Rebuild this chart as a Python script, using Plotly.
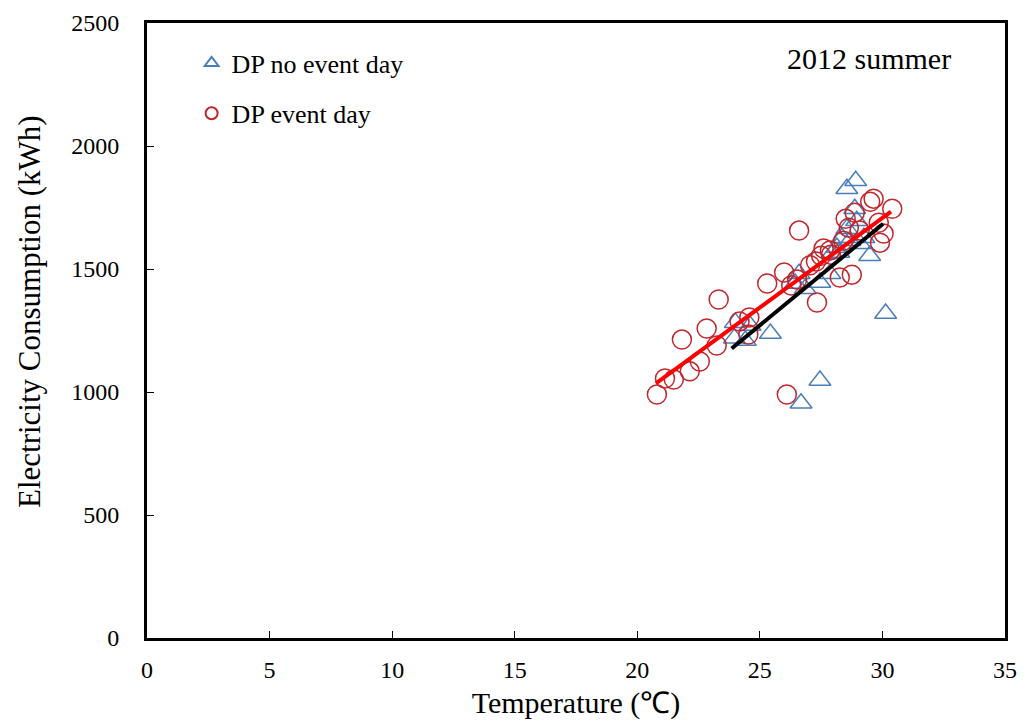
import plotly.graph_objects as go

# DP no event day (blue triangles)
no_event_temp = [28.55, 28.91, 28.87, 28.95, 28.55, 28.35, 28.67, 29.08, 29.48, 28.14,
                 27.94, 29.24, 30.13, 27.45, 26.68, 25.43, 23.96, 24.41, 24.0, 24.6,
                 26.6, 26.44, 26.85, 27.45, 27.86, 28.22]
no_event_kwh = [1826, 1859, 1745, 1696, 1664, 1627, 1615, 1603, 1554, 1587,
                1562, 1627, 1319, 1047, 954, 1238, 1218, 1209, 1282, 1270,
                1481, 1441, 1420, 1445, 1481, 1567]

# DP event day (red circles)
event_temp = [20.8, 21.13, 21.49, 22.14, 22.55, 21.82, 22.83, 23.24, 23.32, 24.17,
              24.57, 24.53, 25.3, 25.99, 26.52, 26.28, 26.6, 26.1, 27.33, 27.29,
              27.6, 27.86, 27.9, 27.5, 28.26, 28.75, 28.4, 28.5, 28.87, 28.63,
              29.07, 29.5, 29.64, 30.4, 29.85, 30.05, 29.9, 27.05]
event_kwh = [990, 1055, 1051, 1084, 1124, 1213, 1258, 1189, 1376, 1287,
             1303, 1234, 1441, 1486, 1457, 1433, 1656, 990, 1364, 1530,
             1583, 1575, 1558, 1554, 1465, 1477, 1615, 1704, 1729, 1668,
             1656, 1773, 1786, 1745, 1688, 1644, 1607, 1515]

# trend lines (end points)
event_fit_temp = [20.76, 30.35]
event_fit_kwh = [1035, 1733]
no_event_fit_temp = [23.85, 30.03]
no_event_fit_kwh = [1177, 1684]

x_ticks = [0, 5, 10, 15, 20, 25, 30, 35]
y_ticks = [0, 500, 1000, 1500, 2000, 2500]

FONT = 'Liberation Serif, Times New Roman, serif'


def main():
    fig = go.Figure()

    fig.add_scatter(x=no_event_temp, y=no_event_kwh, mode='markers',
                    name='DP no event day', legend='legend',
                    marker=dict(symbol='triangle-up-open', size=19, color='#4A7EBB',
                                line=dict(width=1.5, color='#4A7EBB')))
    fig.add_scatter(x=event_temp, y=event_kwh, mode='markers',
                    name='DP event day', legend='legend2',
                    marker=dict(symbol='circle-open', size=19, color='#C0262B',
                                line=dict(width=1.5, color='#C0262B')))
    fig.add_scatter(x=event_fit_temp, y=event_fit_kwh, mode='lines', showlegend=False,
                    line=dict(color='#FF0000', width=4))
    fig.add_scatter(x=no_event_fit_temp, y=no_event_fit_kwh, mode='lines', showlegend=False,
                    line=dict(color='black', width=4))

    axis_common = dict(showline=True, linecolor='black', linewidth=3, mirror=True,
                       ticks='inside', ticklen=7, tickwidth=1, tickcolor='black',
                       showgrid=False, zeroline=False, automargin=False,
                       ticklabeloverflow='allow',
                       tickfont=dict(family=FONT, size=24, color='black'))

    legend_common = dict(font=dict(family=FONT, size=26, color='black'),
                         bgcolor='rgba(0,0,0,0)', itemsizing='constant',
                         xanchor='left', yanchor='middle', x=0.052)

    # page body adds an 8px margin, so the figure is a bit smaller than the window
    fig.update_layout(
        width=1011, height=712,
        margin=dict(l=139, r=14, t=15, b=82),
        paper_bgcolor='white', plot_bgcolor='white',
        font=dict(family=FONT, color='black'),
        xaxis=dict(range=[0, 35], tickvals=x_ticks, ticklabelstandoff=8,
                   title=dict(text='Temperature (℃)', font=dict(family=FONT, size=30), standoff=25),
                   **axis_common),
        yaxis=dict(range=[0, 2500], tickvals=y_ticks, ticklabelstandoff=20,
                   **axis_common),
        legend=dict(y=0.935, **legend_common),
        legend2=dict(y=0.853, **legend_common),
        annotations=[
            dict(text='2012 summer', xref='paper', yref='paper', x=0.842, y=0.943,
                 showarrow=False, xanchor='center', yanchor='middle',
                 font=dict(family=FONT, size=30, color='black')),
            dict(text='Electricity Consumption (kWh)', xref='paper', yref='paper',
                 x=0, y=0.53, xshift=-118, textangle=-90, showarrow=False,
                 xanchor='center', yanchor='middle',
                 font=dict(family=FONT, size=31, color='black')),
        ],
    )

    fig.write_html('out.html')


if __name__ == '__main__':
    main()
